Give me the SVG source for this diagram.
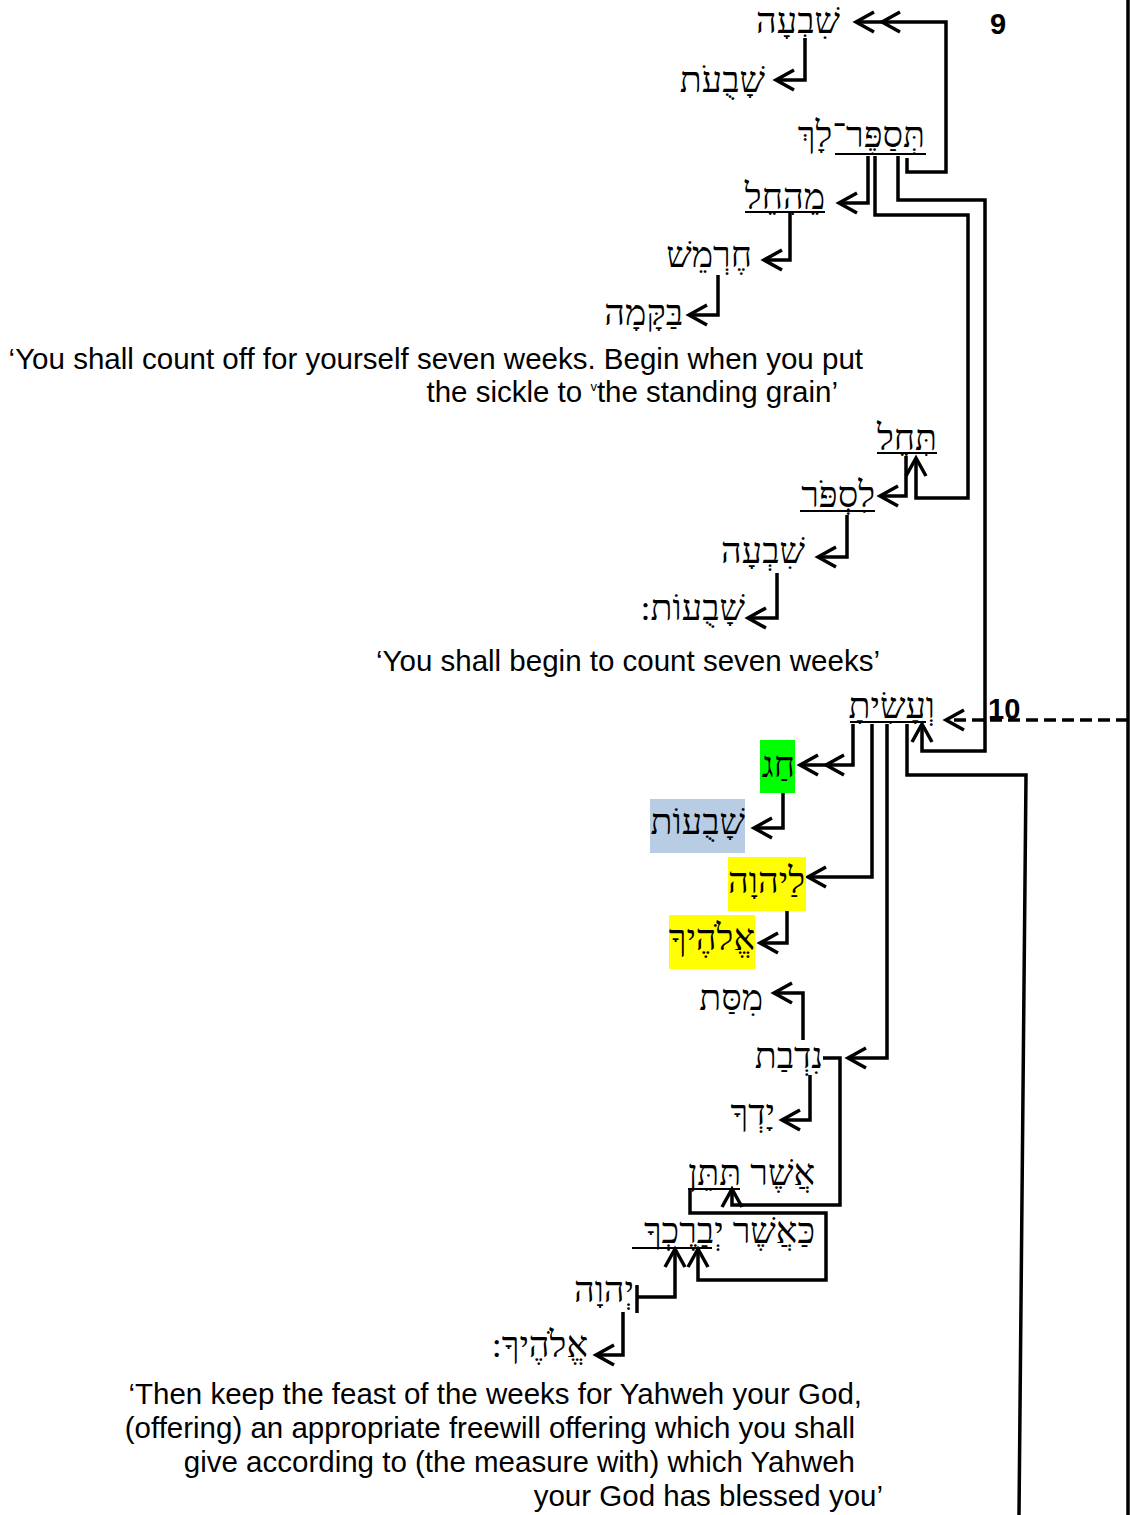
<svg xmlns="http://www.w3.org/2000/svg" width="1132" height="1515" viewBox="0 0 1132 1515">
<style>
.he{font-family:"Liberation Serif","DejaVu Serif",serif;font-size:36px;fill:#000}
.en{font-family:"Liberation Sans",Arial,sans-serif;font-size:29.5px;fill:#000;text-anchor:end}
.num{font-family:"Liberation Sans",Arial,sans-serif;font-size:29px;font-weight:bold;fill:#000}
.c{fill:none;stroke:#000;stroke-width:3.5}
.ul{stroke:#000;stroke-width:2}
</style>
<defs>
<marker id="a" viewBox="-24 -14 28 28" refX="0" refY="0" markerWidth="28" markerHeight="28" markerUnits="userSpaceOnUse" orient="auto" overflow="visible">
<path d="M-18,-10 L0,0 L-18,10" fill="none" stroke="#000" stroke-width="3.5"/>
</marker>
<marker id="d" viewBox="-50 -14 54 28" refX="0" refY="0" markerWidth="54" markerHeight="28" markerUnits="userSpaceOnUse" orient="auto" overflow="visible">
<path d="M-18,-10 L0,0 L-18,10 M-44,-10 L-26,0 L-44,10" fill="none" stroke="#000" stroke-width="3.5"/>
</marker>
</defs>
<rect width="1132" height="1515" fill="#fff"/>

<g id="connectors">
<path class="c" d="M1128,0 V1515"/>
<path class="c" d="M907,158 V172 H946 V22 H856" marker-end="url(#d)"/>
<path class="c" d="M805,38 V80 H776" marker-end="url(#a)"/>
<path class="c" d="M868,156 V203 H839" marker-end="url(#a)"/>
<path class="c" d="M875,156 V215 H968 V498 H916 V458" marker-end="url(#a)"/>
<path class="c" d="M898,156 V200 H985 V751 H922 V724" marker-end="url(#a)"/>
<path class="c" d="M790,213 V260 H764" marker-end="url(#a)"/>
<path class="c" d="M718,275 V315 H689" marker-end="url(#a)"/>
<path class="c" d="M906,456 V496 H880" marker-end="url(#a)"/>
<path class="c" d="M847,515 V557 H818" marker-end="url(#a)"/>
<path class="c" d="M777,573 V618 H748" marker-end="url(#a)"/>
<path class="c" d="M1128,720 H946" stroke-dasharray="12 6" marker-end="url(#a)"/>
<path class="c" d="M853,724 V765 H800" marker-end="url(#d)"/>
<path class="c" d="M872,724 V877 H808" marker-end="url(#a)"/>
<path class="c" d="M887,724 V1058 H848" marker-end="url(#a)"/>
<path class="c" d="M907,724 V775 H1026 L1019,1515"/>
<path class="c" d="M783,793 V828 H754" marker-end="url(#a)"/>
<path class="c" d="M787,911 V943 H760" marker-end="url(#a)"/>
<path class="c" d="M803,1040 V993 H774" marker-end="url(#a)"/>
<path class="c" d="M810,1075 V1120 H782" marker-end="url(#a)"/>
<path class="c" d="M823,1058 H840 V1205 H732 V1189" marker-end="url(#a)"/>
<path class="c" d="M690,1189 V1213 H826 V1280 H698 V1249" marker-end="url(#a)"/>
<path class="c" d="M637,1285 V1313 M637,1297 H675 V1249" marker-end="url(#a)"/>
<path class="c" d="M623,1312 V1355 H596" marker-end="url(#a)"/>
</g>

<g id="labels">
<text class="num" x="990" y="34">9</text>
<text class="num" x="988" y="719">10</text>
</g>

<g id="n1"><text class="he" x="840" y="33" direction="rtl" text-anchor="start">שִׁבְעָה</text></g>
<g id="n2"><text class="he" x="765" y="92" direction="rtl" text-anchor="start">שָׁבֻעֹת</text></g>
<g id="n3"><text class="he" x="925" y="147" direction="rtl" text-anchor="start">תְּסַפֶּר־לָךְ</text><line class="ul" x1="835" y1="154" x2="926" y2="154"/></g>
<g id="n4"><text class="he" x="825" y="209" direction="rtl" text-anchor="start">מֵהָחֵל</text><line class="ul" x1="745" y1="212" x2="825" y2="212"/></g>
<g id="n5"><text class="he" x="752" y="267" direction="rtl" text-anchor="start">חֶרְמֵשׁ</text></g>
<g id="n6"><text class="he" x="683" y="325" direction="rtl" text-anchor="start">בַּקָּמָה</text></g>
<g id="t1">
<text class="en" x="863" y="369">‘You shall count off for yourself seven weeks. Begin when you put</text>
<text class="en" x="838" y="402">the sickle to <tspan font-size="13" dy="-11">v</tspan><tspan dy="11">the standing grain’</tspan></text>
</g>
<g id="n7"><text class="he" x="937" y="450" direction="rtl" text-anchor="start">תָּחֵל</text><line class="ul" x1="877" y1="453" x2="937" y2="453"/></g>
<g id="n8"><text class="he" x="875" y="507" direction="rtl" text-anchor="start">לִסְפֹּר</text><line class="ul" x1="800" y1="511" x2="875" y2="511"/></g>
<g id="n9"><text class="he" x="805" y="563" direction="rtl" text-anchor="start">שִׁבְעָה</text></g>
<g id="n10"><text class="he" x="745" y="620" direction="rtl" text-anchor="start">שָׁבֻעוֹת:</text></g>
<g id="t2"><text class="en" x="880" y="671">‘You shall begin to count seven weeks’</text></g>
<g id="n11"><text class="he" x="935" y="718" direction="rtl" text-anchor="start">וְעָשִׂיתָ</text><line class="ul" x1="850" y1="722" x2="926" y2="722"/></g>
<g id="n12"><rect x="760" y="740" width="35" height="53" fill="#00ff00"/><text class="he" x="795" y="777" direction="rtl" text-anchor="start">חַג</text></g>
<g id="n13"><rect x="650" y="799" width="95" height="54" fill="#b8cce4"/><text class="he" x="745" y="834" direction="rtl" text-anchor="start">שָׁבֻעוֹת</text></g>
<g id="n14"><rect x="728" y="857" width="78" height="54" fill="#ffff00"/><text class="he" x="805" y="893" direction="rtl" text-anchor="start">לַיהוָה</text></g>
<g id="n15"><rect x="669" y="915" width="86" height="54" fill="#ffff00"/><text class="he" x="755" y="950" direction="rtl" text-anchor="start">אֱלֹהֶיךָ</text></g>
<g id="n16"><text class="he" x="763" y="1010" direction="rtl" text-anchor="start">מִסַּת</text></g>
<g id="n17"><text class="he" x="823" y="1068" direction="rtl" text-anchor="start">נִדְבַת</text></g>
<g id="n18"><text class="he" x="775" y="1125" direction="rtl" text-anchor="start">יָדְךָ</text></g>
<g id="n19"><text class="he" x="815" y="1185" direction="rtl" text-anchor="start">אֲשֶׁר תִּתֵּן</text><line class="ul" x1="688" y1="1189" x2="740" y2="1189"/></g>
<g id="n20"><text class="he" x="815" y="1243" direction="rtl" text-anchor="start">כַּאֲשֶׁר יְבָרֶכְךָ</text><line class="ul" x1="632" y1="1248" x2="712" y2="1248"/></g>
<g id="n21"><text class="he" x="634" y="1302" direction="rtl" text-anchor="start">יְהוָה</text></g>
<g id="n22"><text class="he" x="588" y="1357" direction="rtl" text-anchor="start">אֱלֹהֶיךָ:</text></g>
<g id="t3">
<text class="en" x="862" y="1404">‘Then keep the feast of the weeks for Yahweh your God,</text>
<text class="en" x="855" y="1438">(offering) an appropriate freewill offering which you shall</text>
<text class="en" x="855" y="1472">give according to (the measure with) which Yahweh</text>
<text class="en" x="883" y="1506">your God has blessed you’</text>
</g>
</svg>
